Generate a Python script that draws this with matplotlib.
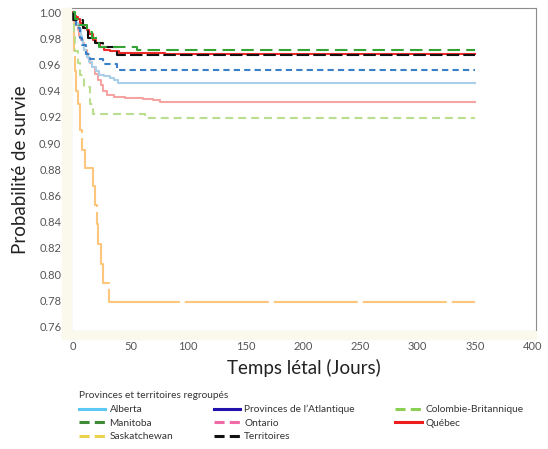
import matplotlib
matplotlib.use('Agg')

from matplotlib import pyplot as plt
from matplotlib.lines import Line2D
from matplotlib.patches import Rectangle
from matplotlib.ticker import MultipleLocator

plt.rcParams['font.family'] = ['Lato', 'DejaVu Sans']

# survival curves, (time in days, probability) step points
alberta_t = [0, 1, 2, 3, 4, 5, 6, 7, 8, 9, 10, 11, 12, 14, 17, 20, 23, 27, 32, 36, 39, 61, 350]
alberta_p = [1.0, 0.997, 0.995, 0.992, 0.99, 0.988, 0.986, 0.982, 0.978, 0.975, 0.971, 0.968,
             0.9655, 0.962, 0.958, 0.955, 0.952, 0.951, 0.95, 0.948, 0.946, 0.9455, 0.9455]

atlantique_t = [0, 1, 3, 6, 8, 11, 15, 26, 38, 350]
atlantique_p = [1.0, 0.995, 0.988, 0.98, 0.975, 0.968, 0.964, 0.96, 0.9556, 0.9556]

cb_t = [0, 0.5, 1, 2, 4, 6, 10, 15, 17.4, 63, 350]
cb_p = [1.0, 0.99, 0.981, 0.97, 0.961, 0.952, 0.9425, 0.93, 0.9225, 0.9195, 0.9195]

manitoba_t = [0, 2, 5, 12, 17, 23, 56, 350]
manitoba_p = [1.0, 0.995, 0.99, 0.985, 0.98, 0.973, 0.971, 0.971]

ontario_t = [0, 1, 2, 3, 4, 5, 7, 8.7, 10, 12, 13, 15, 17, 19, 22, 24, 26, 30, 36, 45,
             61, 70, 76, 350]
ontario_p = [1.0, 0.996, 0.993, 0.99, 0.986, 0.982, 0.979, 0.976, 0.971, 0.968, 0.965,
             0.961, 0.958, 0.953, 0.948, 0.944, 0.94, 0.937, 0.935, 0.9345, 0.934, 0.9325,
             0.9313, 0.9313]

quebec_t = [0, 1, 2, 3, 4.4, 6, 8, 10, 12, 14, 17.4, 20, 23.5, 27, 32, 40, 47, 80, 350]
quebec_p = [1.0, 0.999, 0.997, 0.996, 0.9946, 0.992, 0.99, 0.988, 0.986, 0.983, 0.979,
            0.976, 0.973, 0.971, 0.97, 0.969, 0.9685, 0.9676, 0.9676]

sask_t = [0, 0.5, 1, 2, 3, 4, 6, 8, 10.5, 17.2, 19.2, 20.6, 21.5, 24.7, 26.4, 31.6, 350]
sask_p = [1.0, 0.985, 0.97, 0.955, 0.94, 0.93, 0.91, 0.895, 0.881, 0.867, 0.853, 0.838,
          0.823, 0.808, 0.793, 0.779, 0.779]

territoires_t = [0, 0.3, 9, 13, 19, 26, 38, 350]
territoires_p = [1.0, 0.994, 0.988, 0.98, 0.976, 0.973, 0.9675, 0.9675]

legend_labels = ['Alberta', 'Manitoba', 'Saskatchewan',
                 "Provinces de l\u2019Atlantique", 'Ontario', 'Territoires',
                 'Colombie-Britannique', 'Québec']

fig = plt.figure(figsize=(5.48, 4.49), dpi=100)
ax = fig.add_axes([71 / 548, 1 - 331 / 449, (536 - 71) / 548, (331 - 8) / 449])

# cream strips behind the tick marks
fig.patches.append(Rectangle((62 / 548, 1 - 339 / 449), 9 / 548, 331 / 449,
                             transform=fig.transFigure, color='#fbf9ec', zorder=0))
fig.patches.append(Rectangle((62 / 548, 1 - 339 / 449), 474 / 548, 8 / 449,
                             transform=fig.transFigure, color='#fbf9ec', zorder=0))

lw = 1.5
ax.step(sask_t, sask_p, where='post', color='#fdc67c', lw=lw, linestyle=(20.6, (40.3, 2.4)))
ax.step(cb_t, cb_p, where='post', color='#b9df8e', lw=lw, linestyle=(0, (3.8, 2.4)))
ax.step(ontario_t, ontario_p, where='post', color='#f6a3a3', lw=lw)
ax.step(alberta_t, alberta_p, where='post', color='#a9cfe8', lw=lw)
ax.step(atlantique_t, atlantique_p, where='post', color='#3a80c6', lw=lw, linestyle=(0, (3, 2)))
ax.step(quebec_t, quebec_p, where='post', color='#ee2a2a', lw=lw)
ax.step(territoires_t, territoires_p, where='post', color='#111111', lw=lw, linestyle=(0, (6, 2)))
ax.step(manitoba_t, manitoba_p, where='post', color='#33a333', lw=lw, linestyle=(0, (6, 3)))

ax.set_xlim(-1.7, 402.9)
ax.set_ylim(0.7565, 1.0031)
ax.set_xticks(range(0, 401, 50))
ax.set_yticks([0.76 + 0.02 * i for i in range(13)])
ax.yaxis.set_major_formatter(plt.FormatStrFormatter('%.2f'))
ax.xaxis.set_minor_locator(MultipleLocator(10))
ax.yaxis.set_minor_locator(MultipleLocator(0.0025))
ax.tick_params(which='major', length=5, width=0.8, color='#8a8a8a', labelsize=8,
               labelcolor='#555555', pad=2)
ax.tick_params(which='minor', length=3, width=0.6, color='#9a9a9a')
for side in ['left', 'bottom', 'top', 'right']:
    ax.spines[side].set_color('#8c8c8c')
    ax.spines[side].set_linewidth(0.8)

ax.set_xlabel('Temps létal (Jours)', fontsize=13.5, color='#222222', labelpad=5)
ax.set_ylabel('Probabilité de survie', fontsize=13.5, color='#222222', labelpad=7)

dash = (0, (3.3, 1.7))
handles = [
    Line2D([], [], color='#5cc8f4', lw=2.2),
    Line2D([], [], color='#3f8a37', lw=2.2, linestyle=dash),
    Line2D([], [], color='#ebd24e', lw=2.2, linestyle=dash),
    Line2D([], [], color='#2211aa', lw=2.2),
    Line2D([], [], color='#f06aa8', lw=2.2, linestyle=dash),
    Line2D([], [], color='#111111', lw=2.2, linestyle=dash),
    Line2D([], [], color='#8ccf55', lw=2.2, linestyle=dash),
    Line2D([], [], color='#ee1c1c', lw=2.2),
]
leg = fig.legend(handles, legend_labels, ncol=3, loc='upper left',
                 bbox_to_anchor=(72 / 548, 1 - 384 / 449), frameon=False,
                 title='Provinces et territoires regroupés', alignment='left',
                 fontsize=7.3, title_fontsize=7.3, handlelength=2.6, handletextpad=0.4,
                 columnspacing=4.0, labelspacing=0.45, borderpad=0.2)
for t in leg.get_texts():
    t.set_color('#333333')
leg.get_title().set_color('#333333')

fig.savefig('out.png', dpi=100)
